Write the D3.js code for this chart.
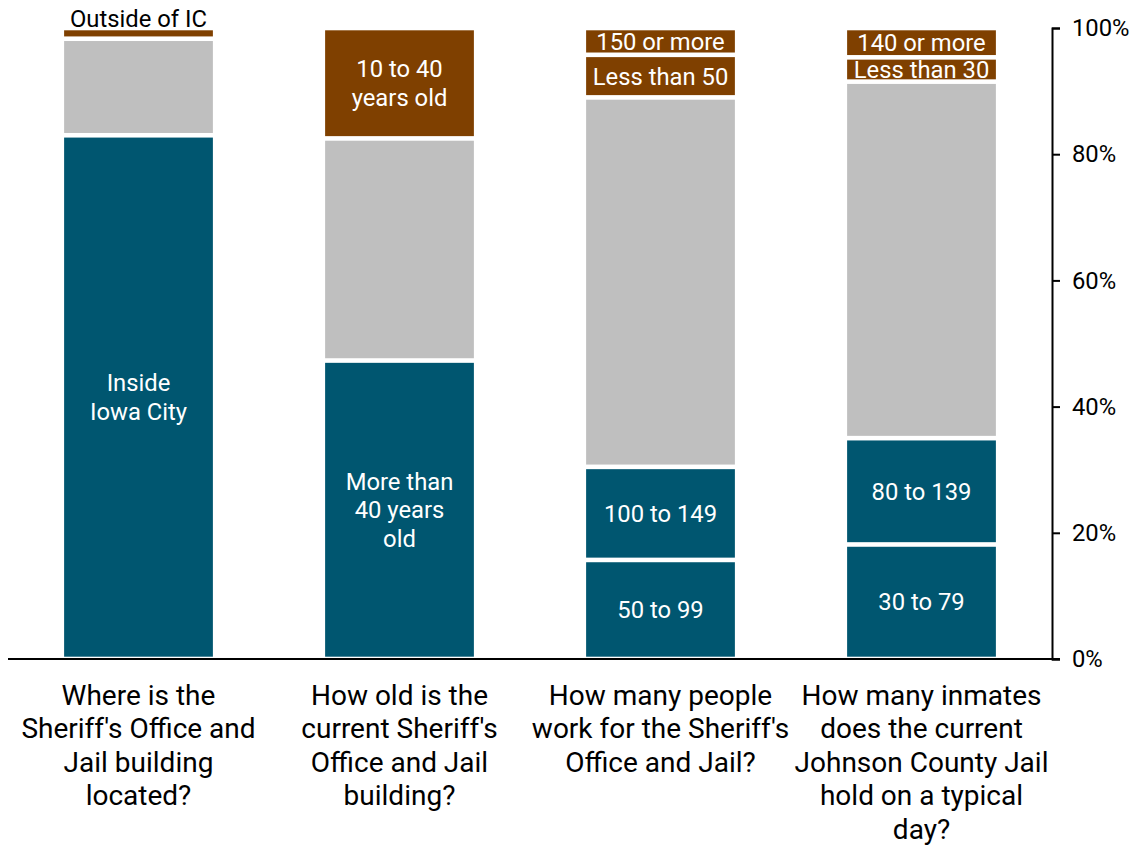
<!DOCTYPE html>
<html><head><meta charset="utf-8">
<script src="https://cdn.jsdelivr.net/npm/d3@7"></script>
<style>body{margin:0;background:#fff}svg{display:block}text{font-family:Roboto,"Noto Sans",sans-serif}</style>
</head><body>
<svg id="c" width="1140" height="846"></svg>
<script>
const categories = [
  ["Where is the","Sheriff's Office and","Jail building","located?"],
  ["How old is the","current Sheriff's","Office and Jail","building?"],
  ["How many people","work for the Sheriff's","Office and Jail?"],
  ["How many inmates","does the current","Johnson County Jail","hold on a typical","day?"]
];
const seriesNames = ["low","lowMid","unsure","brownLow","brownTop"];
const seriesColors = ["#005670","#005670","#bfbfbf","#7f4000","#7f4000"];
const lowValues     = [83.0, 47.3, 15.7, 18.15];
const lowMidValues  = [0, 0, 14.75, 16.85];
const unsureValues  = [15.3, 35.2, 58.55, 56.5];
const brownLowValues= [1.7, 17.5, 6.75, 3.85];
const brownTopValues= [0, 0, 4.25, 4.65];
const lowLabels     = [["Inside","Iowa City"],["More than","40 years","old"],["50 to 99"],["30 to 79"]];
const lowMidLabels  = [[],[],["100 to 149"],["80 to 139"]];
const unsureLabels  = [[],[],[],[]];
const brownLowLabels= [["Outside of IC"],["10 to 40","years old"],["Less than 50"],["Less than 30"]];
const brownTopLabels= [[],[],["150 or more"],["140 or more"]];
const yTicks = [0,20,40,60,80,100];

const seriesValues = [lowValues,lowMidValues,unsureValues,brownLowValues,brownTopValues];
const seriesLabels = [lowLabels,lowMidLabels,unsureLabels,brownLowLabels,brownTopLabels];

const svg = d3.select("#c");
const x = d3.scaleBand().domain(d3.range(categories.length)).range([8,1052]).paddingInner(0.43).paddingOuter(0.215);
const y = d3.scaleLinear().domain([0,100]).range([659,28]);
const inset = 2.3;

categories.forEach((cat,i)=>{
  let cum = 0;
  seriesValues.forEach((vals,s)=>{
    const v = vals[i];
    if(v<=0) return;
    const y0 = y(cum), y1 = y(cum+v);
    cum += v;
    const top = y1 + inset, bot = y0 - inset;
    svg.append("rect").attr("x",x(i)).attr("width",x.bandwidth())
      .attr("y",top).attr("height",Math.max(0,bot-top)).attr("fill",seriesColors[s]);
    const lines = seriesLabels[s][i];
    if(!lines.length) return;
    const lh = 28.7;
    const outside = (bot-top) < 10;
    const cx = x(i)+x.bandwidth()/2;
    const cy = outside ? top - 12 : (top+bot)/2;
    const t = svg.append("text").attr("text-anchor","middle")
      .attr("font-size",23.8).attr("fill", outside ? "#000" : "#fff");
    lines.forEach((ln,k)=>{
      t.append("tspan").attr("x",cx)
        .attr("y",cy + (k-(lines.length-1)/2)*lh).attr("dy","0.36em").text(ln);
    });
  });
  const t = svg.append("text").attr("text-anchor","middle").attr("font-size",28).attr("fill","#000");
  cat.forEach((ln,k)=>{
    t.append("tspan").attr("x",x(i)+x.bandwidth()/2).attr("y",695+k*33.4).attr("dy","0.36em").text(ln);
  });
});

svg.append("line").attr("x1",8).attr("x2",1060).attr("y1",y(0)).attr("y2",y(0))
  .attr("stroke","#000").attr("stroke-width",2);

const ax = svg.append("g").attr("transform","translate(1052,0)")
  .call(d3.axisRight(y).tickValues(yTicks).tickFormat(d=>d+"%").tickSize(8).tickPadding(12));
ax.select(".domain").attr("stroke","#000").attr("stroke-width",2);
ax.selectAll(".tick line").attr("stroke","#000").attr("stroke-width",2);
ax.selectAll(".tick text").attr("font-size",23.8).attr("font-family","Roboto").attr("fill","#000");
</script>
</body></html>
